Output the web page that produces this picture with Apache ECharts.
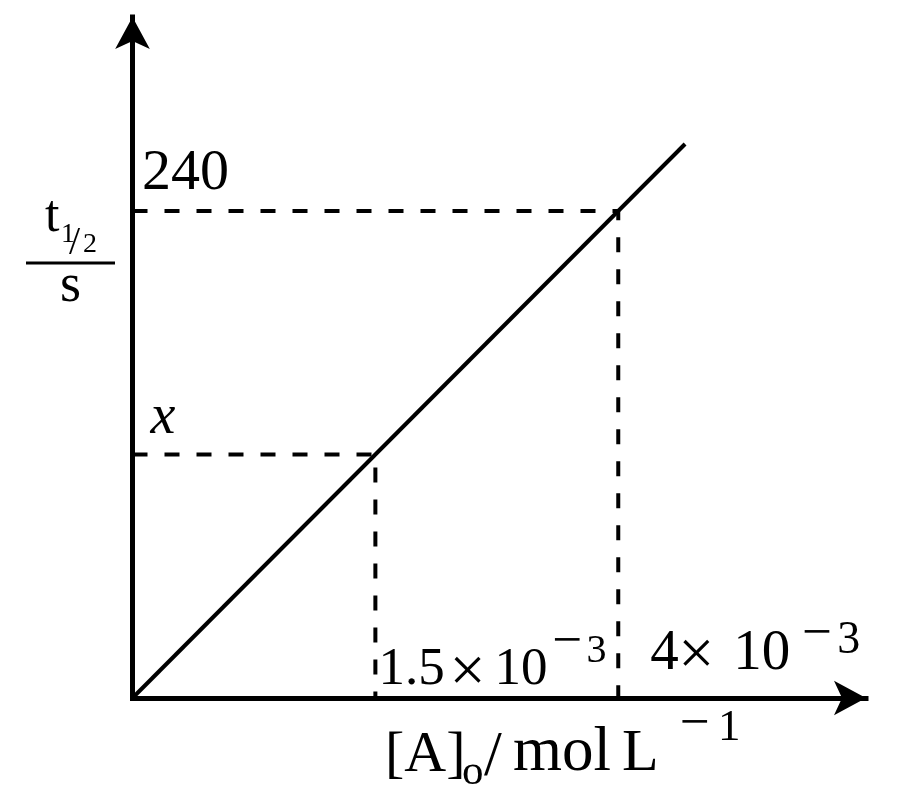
<!DOCTYPE html>
<html>
<head>
<meta charset="utf-8">
<script src="https://cdn.jsdelivr.net/npm/echarts@6/dist/echarts.min.js"></script>
<style>
html, body { margin: 0; padding: 0; background: #fff; }
#view { width: 900px; height: 804px; }
</style>
</head>
<body>
<div id="view"></div>
<script>
// positions as drawn on the sketch (not to scale: 1.5e-3 sits where 2 units would be)
var xGuides = [2, 4];
var xGuideText = ['1.5', '4'];
var yGuides = [120, 240];
var yGuideText = ['x', '240'];
var lineX = [0, 4.55];
var lineY = [0, 273];
var xMax = 6.04;
var yMax = 335.6;

var FONT = 'Liberation Serif';
var myChart = echarts.init(document.getElementById('view'));

function bareAxis(max) {
    return {
        type: 'value',
        min: 0,
        max: max,
        axisLine: {
            show: true,
            symbol: ['none', 'arrow'],
            symbolSize: [26, 32],
            lineStyle: {color: '#000', width: 5, cap: 'square'}
        },
        axisTick: {show: false},
        axisLabel: {show: false},
        splitLine: {show: false}
    };
}

var series = [{
    type: 'line',
    symbol: 'none',
    data: lineX.map(function (x, i) { return [x, lineY[i]]; }),
    lineStyle: {color: '#000', width: 4},
    z: 3
}];
xGuides.forEach(function (gx, i) {
    series.push({
        type: 'line',
        symbol: 'none',
        data: [[0, yGuides[i]], [gx, yGuides[i]], [gx, 0]],
        lineStyle: {color: '#000', width: 4, type: [15, 17]},
        z: 2
    });
});

myChart.setOption({
    animation: false,
    backgroundColor: '#fff',
    grid: {left: 132.5, right: 34, top: 17, bottom: 106},
    xAxis: bareAxis(xMax),
    yAxis: bareAxis(yMax),
    series: series
});

// text piece: left edge x, baseline y
function t(str, x, base, size, style) {
    return {
        type: 'text',
        x: x,
        y: base - 0.34 * size,
        z: 10,
        style: {
            text: str,
            fontFamily: FONT,
            fontSize: size,
            fontStyle: style || 'normal',
            fill: '#000',
            align: 'left',
            verticalAlign: 'middle'
        }
    };
}

var g = [];
// y guide labels, right of the axis just above each dashed line
var pY = yGuides.map(function (v) { return myChart.convertToPixel({gridIndex: 0}, [0, v]); });
g.push(t(yGuideText[0], pY[0][0] + 18, pY[0][1] - 17, 56, 'italic'));
g.push(t(yGuideText[1], pY[1][0] + 9.5, pY[1][1] - 18, 58));

// x guide labels
var pX = xGuides.map(function (v) { return myChart.convertToPixel({gridIndex: 0}, [v, 0]); });
var a = pX[0];
g.push(t(xGuideText[0], a[0] + 3, a[1] - 10, 53));
g.push(t('×', a[0] + 74, a[1] - 2, 64));
g.push(t('10', a[0] + 119, a[1] - 10, 53));
g.push(t('−', a[0] + 177, a[1] - 37, 53));
g.push(t('3', a[0] + 211, a[1] - 33, 40));
var b = pX[1];
g.push(t(xGuideText[1], b[0] + 32, b[1] - 25, 57));
g.push(t('×', b[0] + 60, b[1] - 19, 64));
g.push(t('10', b[0] + 115, b[1] - 25, 57));
g.push(t('−', b[0] + 184, b[1] - 45, 53));
g.push(t('3', b[0] + 219, b[1] - 41, 46));

// x axis name: [A]o / mol L^-1
g.push(t('[A]', 385, 775, 58));
g.push(t('o', 462, 787, 43));
g.push(t('/', 484, 780, 64));
g.push(t('mol', 513, 775, 63));
g.push(t('L', 622, 775, 60));
g.push(t('−', 680, 743, 53));
g.push(t('1', 718, 743, 45));

// y axis name: t1/2 over s
g.push(t('t', 45, 235, 52));
g.push(t('1', 61, 244, 28));
g.push(t('/', 69, 257, 40));
g.push(t('2', 83, 254, 28));
g.push({type: 'line', z: 10, shape: {x1: 26, y1: 263, x2: 115, y2: 263}, style: {stroke: '#000', lineWidth: 3}});
g.push(t('s', 60, 305, 54));

myChart.setOption({graphic: g});
</script>
</body>
</html>
